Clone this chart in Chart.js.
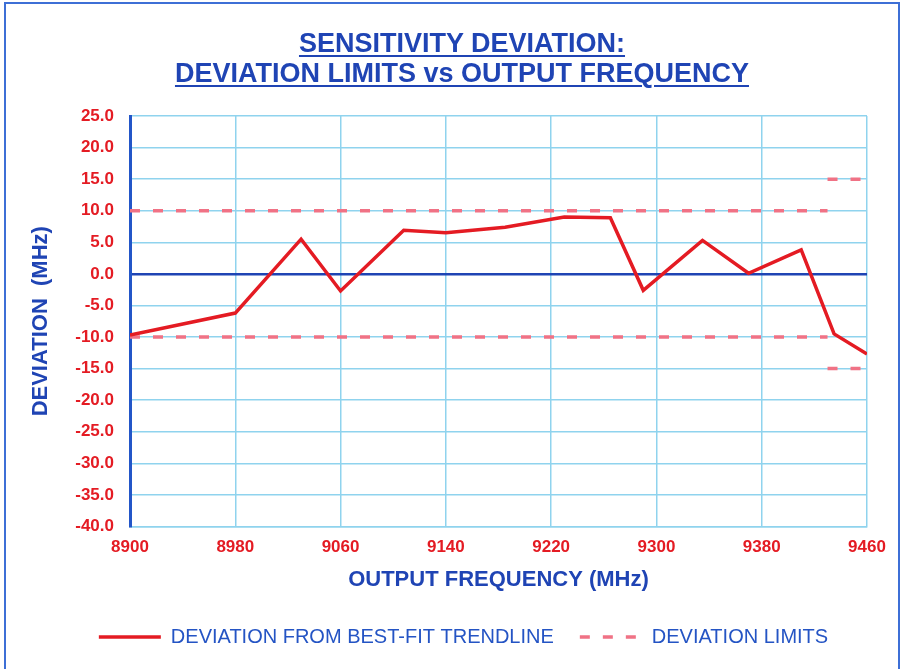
<!DOCTYPE html>
<html lang="en">

<head>
    <meta charset="UTF-8">
    <title>Sensitivity Deviation</title>
    <script src="https://cdn.jsdelivr.net/npm/chart.js"></script>
    <style>
        body {
            margin: 0;
            background: #fff;
            overflow: hidden;
        }

        .moldura {
            position: absolute;
            left: 4px;
            top: 2px;
            width: 896px;
            height: 700px;
            border: 2px solid #3d6fd6;
            border-bottom: none;
            box-sizing: border-box;
        }

        #titulo {
            position: absolute;
            left: 20px;
            top: 28px;
            width: 884px;
            text-align: center;
            font: bold 27px "Liberation Sans", Arial, sans-serif;
            line-height: 30px;
            color: #1f44b4;
        }

        #titulo span {
            text-decoration: underline;
            text-decoration-thickness: 2px;
            text-underline-offset: 3px;
        }

        #grafico {
            position: absolute;
            left: 0;
            top: 0;
        }
    </style>
</head>

<body>
    <div class="moldura"></div>
    <canvas id="grafico" width="904" height="669"></canvas>
    <div id="titulo">
        <span>SENSITIVITY DEVIATION:</span><br>
        <span>DEVIATION LIMITS vs OUTPUT FREQUENCY</span>
    </div>

    <script>
        // dados
        const frequencia = [8900, 8980, 9030, 9060, 9108, 9140, 9185, 9230, 9265, 9290, 9335, 9370, 9410, 9435, 9460];
        const desvio = [-9.7, -6.2, 5.5, -2.7, 6.9, 6.5, 7.4, 9.0, 8.9, -2.6, 5.3, 0.1, 3.8, -9.5, -12.7];

        // limites de desvio (+/-10 e +/-15 no fim da faixa)
        const limiteFreq = [8900, 9430];
        const limiteSup = [10, 10];
        const limiteInf = [-10, -10];
        const limiteExtFreq = [9430, 9460];
        const limiteExtSup = [15, 15];
        const limiteExtInf = [-15, -15];

        const eixoX = { min: 8900, max: 9460, passo: 80 };
        const eixoY = { min: -40, max: 25, passo: 5 };

        const vermelho = '#e41b23';
        const rosa = '#f07285';
        const azul = '#1f44b4';
        const grade = '#8fd3ee';

        function pontos(xs, ys) {
            return xs.map((x, i) => ({ x: x, y: ys[i] }));
        }

        function limite(label, xs, ys) {
            return {
                label: label,
                data: pontos(xs, ys),
                borderColor: rosa,
                backgroundColor: rosa,
                borderWidth: 3.5,
                borderDash: [10, 13],
                pointRadius: 0,
                fill: false
            };
        }

        // empurra a legenda um pouco para a direita, como no original
        const moverLegenda = {
            id: 'moverLegenda',
            afterLayout(chart) {
                chart.legend.left += 30;
                chart.legend.right += 30;
            }
        };

        Chart.defaults.font.family = "'Liberation Sans', Arial, sans-serif";

        const config = {
            type: 'line',
            data: {
                datasets: [
                    {
                        label: 'DEVIATION FROM BEST-FIT TRENDLINE',
                        data: pontos(frequencia, desvio),
                        borderColor: vermelho,
                        backgroundColor: vermelho,
                        borderWidth: 3.5,
                        pointRadius: 0,
                        tension: 0,
                        fill: false
                    },
                    limite('DEVIATION LIMITS', limiteFreq, limiteSup),
                    limite('lim inf', limiteFreq, limiteInf),
                    limite('lim ext sup', limiteExtFreq, limiteExtSup),
                    limite('lim ext inf', limiteExtFreq, limiteExtInf)
                ]
            },
            options: {
                responsive: false,
                devicePixelRatio: 1,
                animation: false,
                layout: {
                    padding: { top: 116, left: 0, right: 37, bottom: 12 }
                },
                scales: {
                    x: {
                        type: 'linear',
                        min: eixoX.min,
                        max: eixoX.max,
                        afterFit: function (scale) { scale.height = 74.5; },
                        ticks: {
                            stepSize: eixoX.passo,
                            color: vermelho,
                            padding: 11,
                            font: { size: 17, weight: 'bold' },
                            callback: v => String(v)
                        },
                        grid: { color: grade, lineWidth: 1.5, drawTicks: false },
                        border: { color: grade, width: 1.5 },
                        title: {
                            display: true,
                            text: 'OUTPUT FREQUENCY (MHz)',
                            color: azul,
                            font: { size: 22, weight: 'bold' },
                            padding: { top: 0, bottom: 8 }
                        }
                    },
                    y: {
                        min: eixoY.min,
                        max: eixoY.max,
                        afterFit: function (scale) { scale.width = 130; },
                        ticks: {
                            stepSize: eixoY.passo,
                            color: vermelho,
                            padding: 16,
                            font: { size: 17, weight: 'bold' },
                            callback: v => v.toFixed(1)
                        },
                        grid: {
                            drawTicks: false,
                            color: c => c.tick && c.tick.value === 0 ? azul : grade,
                            lineWidth: c => c.tick && c.tick.value === 0 ? 2.5 : 1.5
                        },
                        border: { color: '#2356c8', width: 3 },
                        title: {
                            display: true,
                            text: 'DEVIATION  (MHz)',
                            color: azul,
                            font: { size: 22, weight: 'bold' },
                            padding: { top: 28, bottom: 0 }
                        }
                    }
                },
                plugins: {
                    legend: {
                        position: 'bottom',
                        labels: {
                            filter: item => item.datasetIndex < 2,
                            usePointStyle: true,
                            pointStyle: 'line',
                            pointStyleWidth: 62,
                            padding: 26,
                            color: '#2454c4',
                            font: { size: 20 },
                            // a amostra de linha perde o tracejado com usePointStyle, repoe aqui
                            generateLabels: function (chart) {
                                const itens = Chart.defaults.plugins.legend.labels.generateLabels(chart);
                                itens.forEach(item => {
                                    const ds = chart.data.datasets[item.datasetIndex];
                                    item.lineDash = ds.borderDash || [];
                                    item.lineWidth = ds.borderWidth;
                                    item.strokeStyle = ds.borderColor;
                                });
                                return itens;
                            }
                        }
                    },
                    tooltip: { enabled: false }
                }
            },
            plugins: [moverLegenda]
        };

        new Chart(document.getElementById('grafico').getContext('2d'), config);
    </script>
</body>

</html>
